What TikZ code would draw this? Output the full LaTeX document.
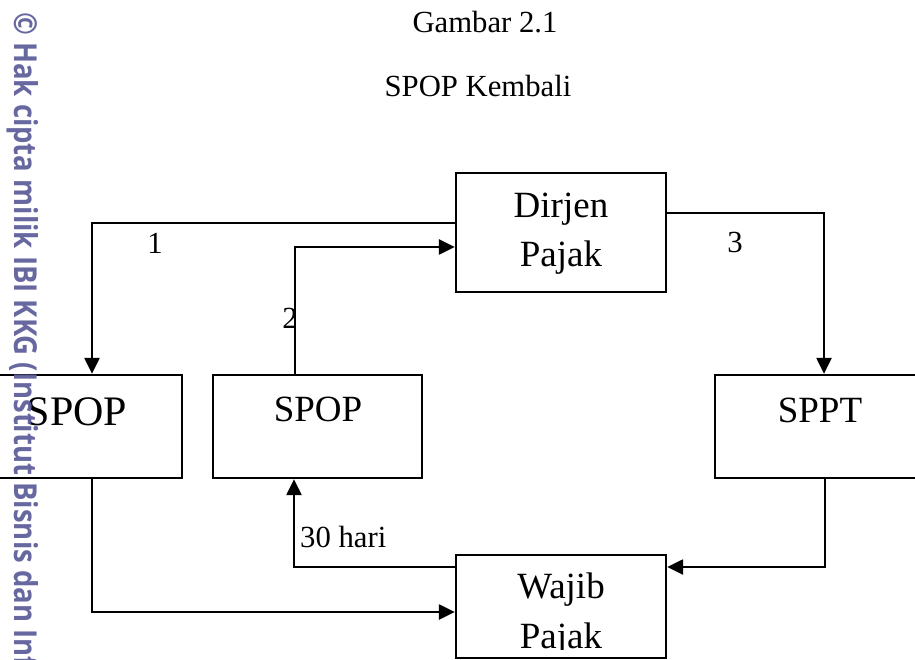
\documentclass[tikz,border=0pt]{standalone}
\usepackage{fontspec}
\usepackage{graphicx}
\setmainfont{Liberation Serif}
\newfontfamily\wmfont{Open Sans}
\usetikzlibrary{arrows.meta}
\definecolor{wmblue}{RGB}{96,96,156}
\tikzset{
  box/.style={draw, line width=2.3pt, inner sep=0pt, fill=white},
  lbl/.style={inner sep=0pt, anchor=base},
  arr/.style={line width=2.3pt, -{Triangle[length=16pt,width=15pt]}},
  big/.style={font=\fontsize{37}{50}\selectfont},
  mid/.style={font=\fontsize{30.7}{36}\selectfont},
}
\begin{document}
\begin{tikzpicture}[x=1pt,y=-1pt]
\useasboundingbox (0,0) rectangle (915,660);

% titles
\node[lbl, mid] (title) at (485,33) {Gambar 2.1};
\node[lbl, mid] (subtitle) at (478,97) {SPOP Kembali};

% boxes
\node[box, minimum width=210pt, minimum height=119pt] (dirjen) at (561,232.5) {};
\node[box, minimum width=210pt, minimum height=103pt] (spopL) at (77,426.5) {};
\node[box, minimum width=209pt, minimum height=103pt] (spopM) at (317.5,426.5) {};
\node[box, minimum width=210pt, minimum height=103pt] (sppt) at (820,426.5) {};
\node[box, minimum width=210pt, minimum height=103pt] (wajib) at (561,606.5) {};

% box texts (a two-line node sits on the baseline of its last line)
\node[lbl, big, align=center] (tdir) at (561,267) {Dirjen\\Pajak};
\node[lbl, font=\fontsize{42}{50}\selectfont] (tspopL) at (77,425) {SPOP};
\node[lbl, big] (tspopM) at (318,421) {SPOP};
\node[lbl, big] (tsppt) at (820,422) {SPPT};
\begin{scope}
  \clip (456,555) rectangle (666,649);
  \node[lbl, big, align=center] (twajib) at (561,648) {Wajib\\Pajak};
\end{scope}

% bend points of the connectors
\coordinate (k1) at (92,223);
\coordinate (k2) at (295,247);
\coordinate (k3) at (824,213);
\coordinate (k4) at (825,567);
\coordinate (k5) at (294,567);
\coordinate (k6) at (92,612);

\draw[arr] (k1 -| dirjen.west) -- (k1) -- (k1 |- spopL.north);
\draw[arr] (k2 |- spopM.north) -- (k2) -- (k2 -| dirjen.west);
\draw[arr] (k3 -| dirjen.east) -- (k3) -- (k3 |- sppt.north);
\draw[arr] (k4 |- sppt.south) -- (k4) -- (k4 -| wajib.east);
\draw[arr] (k5 -| wajib.west) -- (k5) -- (k5 |- spopM.south);
\draw[arr] (k6 |- spopL.south) -- (k6) -- (k6 -| wajib.west);

% connector labels
\node[lbl, mid] (n1) at (155,254) {1};
\node[lbl, mid] (n2) at (290,328) {2};
\node[lbl, mid] (n3) at (735,253) {3};
\node[lbl, mid, anchor=base west] (n30) at (300,547) {30 hari};

% copyright strip along the left edge
\node[rotate=-90, anchor=base west, inner sep=0pt, text=wmblue, opacity=0.95,
      font=\wmfont\bfseries\fontsize{27.5}{32}\selectfont] (wm) at (14,12)
  {\scalebox{1}[1.15]{© Hak cipta milik IBI KKG (Institut Bisnis dan Inf}};
\end{tikzpicture}
\end{document}
